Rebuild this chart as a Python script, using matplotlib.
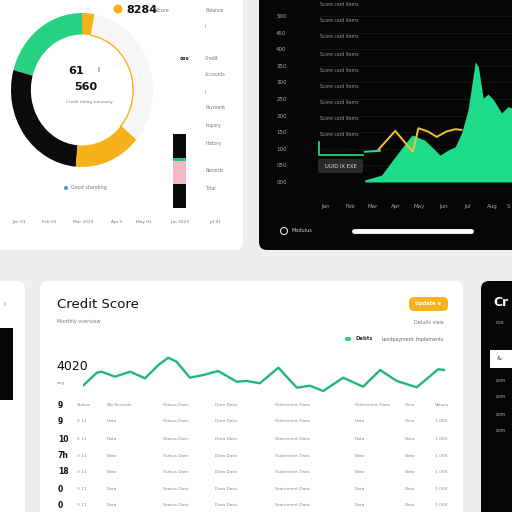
import matplotlib
matplotlib.use("Agg")
import matplotlib.pyplot as plt
from matplotlib.patches import FancyBboxPatch, Rectangle, Circle, Arc
import numpy as np

# ---------------- data ----------------
donut_labels = ["Good", "Poor", "Fair", "Rest", "Top"]
donut_values = [75, 100, 55, 120, 10]
donut_colors = ["#27d383", "#0b0b0b", "#f5b21b", "#f6f6f6", "#f5b21b"]

dark_yticks = [0, 50, 100, 150, 200, 250, 300, 350, 400, 450, 500]
dark_yticklabels = ["000", "050", "100", "150", "200", "250", "300", "350", "400", "450", "500"]
dark_xticks = [0.75, 3.75, 6.6, 9.5, 12.4, 15.4, 18.5, 21.5, 23.6]
dark_xticklabels = ["Jan", "Feb", "Mar", "Apr", "May", "Jun", "Jul", "Aug", "S"]

area_x = [5.6, 7.7, 9.4, 11.5, 13.1, 14.4, 15.0, 16.0, 16.9, 17.7, 18.5, 19.2,
          19.4, 19.8, 20.4, 21.0, 21.7, 22.7, 23.5, 24.0]
area_v = [6, 21, 76, 142, 126, 96, 81, 96, 106, 148, 217, 328,
          362, 347, 252, 265, 247, 208, 227, 223]

yellow_x = [7.25, 9.4, 11.6, 12.3, 13.5, 14.6, 15.8, 16.9, 17.7]
yellow_v = [96, 154, 91, 162, 152, 136, 152, 159, 157]

green_x = [5.6, 7.5]
green_v = [91, 94]

credit_x = [0, 3.9, 5.2, 8.9, 13.1, 17.2, 20.9, 23.6, 25.9, 29.6, 33.3, 37.4,
            42.5, 45.3, 48.9, 54.0, 59.1, 62.7, 66.4, 71.9, 77.4, 82.1, 86.7,
            92.2, 98.1, 100]
credit_v = [490, 623, 633, 583, 633, 567, 700, 773, 733, 573, 600, 640,
            533, 540, 517, 673, 473, 493, 440, 573, 483, 650, 540,
            477, 657, 650]

card1_list = ["Balance", "i", "Credit", "Accounts", "i", "Payment", "Inquiry",
              "History", "Records", "Total"]
card1_bottom = ["Jan 01", "Feb 01", "Mar 2023", "Apr 5", "May 01", "Jun 2023", "Jul 01"]
row_icons = ["9", "9", "10", "7h", "18", "0", "0"]

W = 512
fig = plt.figure(figsize=(5.12, 5.12), dpi=100)
fig.patch.set_facecolor("#eeeeee")

def fr(x0, y0, w, h):
    return [x0 / W, 1 - (y0 + h) / W, w / W, h / W]

bg = fig.add_axes([0, 0, 1, 1], zorder=0)
bg.set_xlim(0, W); bg.set_ylim(W, 0); bg.axis("off")

def card(ax, x0, y0, x1, y1, color, r=8, **kw):
    ax.add_patch(FancyBboxPatch((x0, y0), x1 - x0, y1 - y0,
                                boxstyle=f"round,pad=0,rounding_size={r}",
                                fc=color, ec="none", **kw))

card(bg, -20, -20, 243, 250, "white")
card(bg, 259, -20, 540, 250, "#060606")
card(bg, -30, 281, 25, 540, "white")
card(bg, 40, 281, 463, 540, "white")
card(bg, 481, 281, 540, 540, "#060606")
bg.add_patch(Rectangle((0, 328), 13, 72, fc="#080808", ec="none"))
bg.text(3, 305, "ii", fontsize=3.5, color="#888888", va="center")

# ---------------- donut ----------------
axd = fig.add_axes(fr(11, 13, 142, 154), zorder=1)
axd.pie(donut_values, colors=donut_colors, startangle=90, counterclock=True,
        wedgeprops=dict(width=0.28, edgecolor="none"))
axd.set_aspect("auto")
axd.set_xlim(-1, 1); axd.set_ylim(-1, 1)
axd.add_patch(Arc((0, 0), 1.44, 1.44, theta1=-42, theta2=80, color="#f5b21b", lw=1.0))
axd.axis("off")

# ---------------- dark area chart ----------------
axa = fig.add_axes(fr(320, 16, 192, 166), zorder=1)
axa.set_facecolor("none")
axa.fill_between(area_x, area_v, 0, color="#1fdc8b", lw=0)
axa.plot(yellow_x, yellow_v, color="#f2c233", lw=1.4, solid_capstyle="round")
axa.plot(green_x, green_v, color="#2ee08f", lw=1.4)
axa.set_xlim(0, 24); axa.set_ylim(0, 500)
axa.set_yticks(dark_yticks)
axa.set_yticklabels(dark_yticklabels)
axa.set_xticks(dark_xticks)
axa.set_xticklabels(dark_xticklabels)
axa.tick_params(axis="y", length=0, pad=24, labelsize=4, labelcolor="#a8a8a8")
axa.tick_params(axis="x", length=0, pad=16, labelsize=4, labelcolor="#a8a8a8")
for s in axa.spines.values():
    s.set_visible(False)
axa.grid(axis="y", color="#1c1c1c", lw=0.5)
axa.set_axisbelow(True)

# ---------------- credit line ----------------
axl = fig.add_axes(fr(82.7, 340, 362.3, 60), zorder=1)
axl.set_facecolor("none")
axl.plot(credit_x, credit_v, color="#1fb877", lw=1.7, solid_joinstyle="round",
         solid_capstyle="round")
axl.set_xlim(0, 100); axl.set_ylim(350, 950)
axl.axis("off")

# ---------------- overlay ----------------
ov = fig.add_axes([0, 0, 1, 1], zorder=5)
ov.set_xlim(0, W); ov.set_ylim(W, 0); ov.axis("off"); ov.patch.set_alpha(0)

# card 1 texts
ov.add_patch(Circle((118, 9), 4.5, fc="#f5b21b", ec="none"))
ov.text(126, 10, "8284", fontsize=8, fontweight="bold", color="#111111", va="center")
ov.text(156, 10, "Score", fontsize=3.5, color="#777777", va="center")
ov.text(68, 71, "61", fontsize=8, fontweight="bold", color="#111111", va="center")
ov.text(97, 70, "i", fontsize=5, color="#333333", va="center")
ov.text(74, 87, "560", fontsize=8, fontweight="bold", color="#111111", va="center")
ov.text(66, 102, "Credit rating summary", fontsize=3, color="#777777", va="center")
ov.add_patch(Circle((66, 188), 2, fc="#3a9bd6", ec="none"))
ov.text(71, 188, "Good standing", fontsize=3.5, color="#777777", va="center")
list_y = [10, 27, 59, 75, 92, 108, 126, 143, 170, 189]
for y, t in zip(list_y, card1_list):
    ov.text(205, y, t, fontsize=3.3, color="#777777", va="center")
ov.text(180, 59, "ooo", fontsize=3.3, color="#222222", fontweight="bold", va="center")
for x, t in zip([19, 49, 83, 117, 144, 180, 215], card1_bottom):
    ov.text(x, 222, t, fontsize=3.2, color="#777777", va="center", ha="center")
# small vertical bar
ov.add_patch(Rectangle((173, 134), 13, 24, fc="#0a0a0a", ec="none"))
ov.add_patch(Rectangle((173, 158), 13, 2.5, fc="#27c47a", ec="none"))
ov.add_patch(Rectangle((173, 160.5), 13, 23.5, fc="#f2b8c4", ec="none"))
ov.add_patch(Rectangle((173, 184), 13, 24, fc="#0a0a0a", ec="none"))

# dark panel texts
dl_y = [5, 21, 37, 54, 70, 86, 103, 119, 135]
for y in dl_y:
    ov.text(320, y, "Score card items", fontsize=3.3, color="#9a9a9a", va="center")
ov.plot([318.5, 318.5, 363], [142, 155, 155], color="#2ee08f", lw=1.2)
ov.text(323, 151, "- - - - - - - - - -", fontsize=3, color="#c0603a", va="center")
ov.add_patch(FancyBboxPatch((318, 159), 45, 14, boxstyle="round,pad=0,rounding_size=2",
                            fc="#2a2a2a", ec="none"))
ov.text(340.5, 166, "UUID IX EXE", fontsize=3.8, color="#dddddd", va="center", ha="center")
ov.add_patch(Circle((284, 231), 3.5, fc="none", ec="#dddddd", lw=0.8))
ov.text(291, 231, "Modulus", fontsize=3.6, color="#cccccc", va="center")
ov.plot([354, 471], [231, 231], color="white", lw=3.5, solid_capstyle="round")

# card 3 texts
ov.text(57, 304, "Credit Score", fontsize=9.5, color="#111111", va="center")
ov.text(57, 322, "Monthly overview", fontsize=3.5, color="#777777", va="center")
ov.add_patch(FancyBboxPatch((409, 297), 39, 14, boxstyle="round,pad=0,rounding_size=5",
                            fc="#f5b21b", ec="none"))
ov.text(428, 304, "Update \u2295", fontsize=3.6, color="white", va="center", ha="center",
        fontweight="bold")
ov.text(444, 322, "Details view", fontsize=3.5, color="#777777", va="center", ha="right")
ov.add_patch(FancyBboxPatch((345, 337), 6, 4, boxstyle="round,pad=0,rounding_size=1.5",
                            fc="#2ad388", ec="none"))
ov.text(355, 339, "Debts", fontsize=3.8, color="#333333", va="center", fontweight="bold")
ov.text(381, 339, "Lendpayment", fontsize=3.4, color="#666666", va="center")
ov.text(415, 339, "Implements", fontsize=3.4, color="#666666", va="center")
ov.text(56, 366, "4020", fontsize=9, color="#111111", va="center")
ov.text(57, 383, "avg", fontsize=3.2, color="#888888", va="center")

row_y = [405, 421, 439, 456, 472, 489, 505]
cols_x = [77, 107, 163, 215, 275, 355, 405, 435]
for i, (y, ic) in enumerate(zip(row_y, row_icons)):
    ov.text(58, y, ic, fontsize=5.5, fontweight="bold", color="#111111", va="center")
    texts = (["Status", "Nb Records", "Status Date", "Date Data", "Statement Data",
              "Statement Data", "Data", "Values"] if i == 0 else
             ["0 11", "Data", "Status Date", "Data Data", "Statement Data",
              "Data", "Data", "1 000"])
    for x, t in zip(cols_x, texts):
        ov.text(x, y, t, fontsize=3.2, color="#8a8a8a", va="center")

# card 4 texts
ov.text(493, 302, "Cr", fontsize=9, color="white", fontweight="bold", va="center")
ov.text(496, 322, "ooo", fontsize=3.3, color="#aaaaaa", va="center")
ov.add_patch(Rectangle((490, 350), 25, 18, fc="white", ec="none"))
ov.text(497, 359, "\u0026", fontsize=4.5, color="#333333", va="center")
for y in [381, 397, 414, 431]:
    ov.text(496, y, "oom", fontsize=3.3, color="#aaaaaa", va="center")

fig.savefig("out.png", dpi=100, facecolor=fig.get_facecolor())
